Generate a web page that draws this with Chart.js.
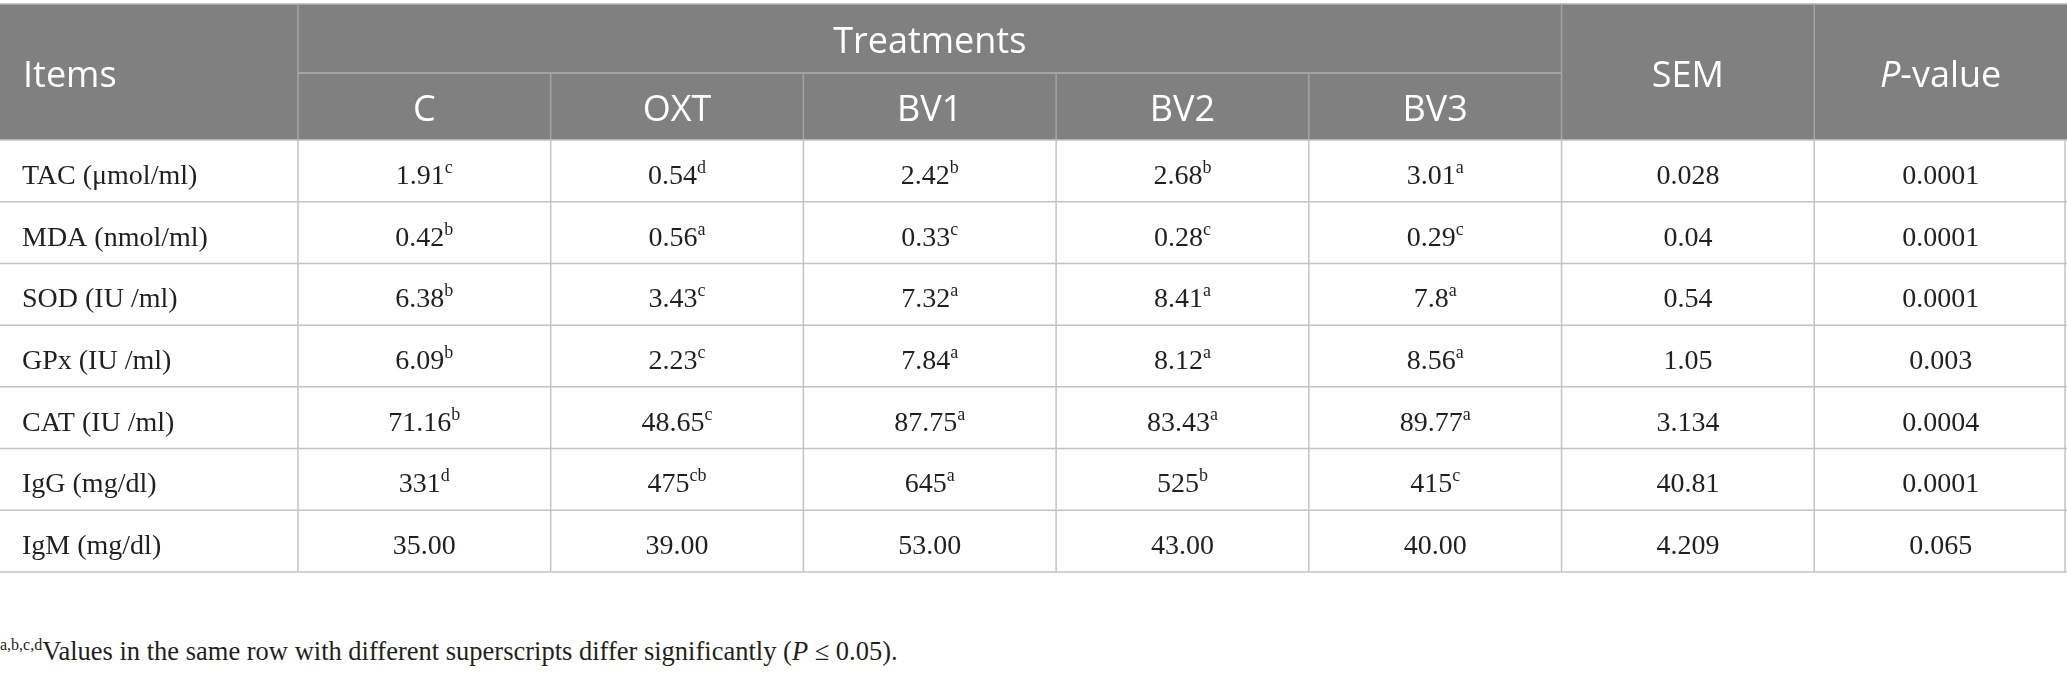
<!DOCTYPE html>
<html>
<head>
<meta charset="utf-8">
<script src="https://cdn.jsdelivr.net/npm/chart.js@4.4.0/dist/chart.umd.min.js"></script>
<style>
  html, body { margin: 0; padding: 0; background: #fff; }
  #wrap { position: relative; width: 2067px; height: 676px; overflow: hidden; }
  #note { position: absolute; left: 0; top: 638px; font: 26.5px "Liberation Serif", serif; line-height: 26px; color: #231f20; white-space: nowrap; }
  #note sup { font-size: 16px; line-height: 0; vertical-align: 10px; }
</style>
</head>
<body>
<div id="wrap">
  <canvas id="chart" width="2067" height="580"></canvas>
  <div id="note"><sup>a,b,c,d</sup>Values in the same row with different superscripts differ significantly (<i>P</i> ≤ 0.05).</div>
</div>
<script>
// table content
const items = ["TAC (μmol/ml)", "MDA (nmol/ml)", "SOD (IU /ml)", "GPx (IU /ml)", "CAT (IU /ml)", "IgG (mg/dl)", "IgM (mg/dl)"];
const treatments = ["C", "OXT", "BV1", "BV2", "BV3"];

const valC   = ["1.91", "0.42", "6.38", "6.09", "71.16", "331", "35.00"];
const supC   = ["c", "b", "b", "b", "b", "d", ""];
const valOXT = ["0.54", "0.56", "3.43", "2.23", "48.65", "475", "39.00"];
const supOXT = ["d", "a", "c", "c", "c", "cb", ""];
const valBV1 = ["2.42", "0.33", "7.32", "7.84", "87.75", "645", "53.00"];
const supBV1 = ["b", "c", "a", "a", "a", "a", ""];
const valBV2 = ["2.68", "0.28", "8.41", "8.12", "83.43", "525", "43.00"];
const supBV2 = ["b", "c", "a", "a", "a", "b", ""];
const valBV3 = ["3.01", "0.29", "7.8", "8.56", "89.77", "415", "40.00"];
const supBV3 = ["a", "c", "a", "a", "a", "c", ""];
const sem    = ["0.028", "0.04", "0.54", "1.05", "3.134", "40.81", "4.209"];
const pValue = ["0.0001", "0.0001", "0.0001", "0.003", "0.0004", "0.0001", "0.065"];

// layout in scale units (one data row = 1, one value column = 1)
const ITEM_SPAN = 1.179;
const X_MAX = ITEM_SPAN + 7;
const HEAD1 = 1.118;
const HEAD2 = 1.086;
const HEAD = HEAD1 + HEAD2;
const Y_MAX = HEAD + items.length;

const HEAD_BG = "#7f807f";
const HEAD_LINE = "#a4a4a4";
const BODY_LINE = "#c3c3c3";
const TEXT = "#231f20";
const HEAD_FONT = '36px "Open Sans"';
const BODY_FONT = '28px "Liberation Serif"';
const SUP_FONT = '18px "Liberation Serif"';

function colEdge(k) {
  return k === 0 ? 0 : ITEM_SPAN + (k - 1);
}

function column(k, texts, sups) {
  return {
    texts: texts,
    sups: sups || texts.map(() => ""),
    data: texts.map((t, i) => ({ x: (colEdge(k) + colEdge(k + 1)) / 2, y: HEAD + i + 0.5 })),
    pointRadius: 0
  };
}

const columns = [
  column(1, valC, supC),
  column(2, valOXT, supOXT),
  column(3, valBV1, supBV1),
  column(4, valBV2, supBV2),
  column(5, valBV3, supBV3),
  column(6, sem),
  column(7, pValue)
];

function line(ctx, x1, y1, x2, y2, color, w) {
  ctx.strokeStyle = color;
  ctx.lineWidth = w;
  ctx.beginPath();
  ctx.moveTo(x1, y1);
  ctx.lineTo(x2, y2);
  ctx.stroke();
}

const tablePlugin = {
  id: 'tablePlugin',
  afterDraw(chart) {
    const ctx = chart.ctx;
    const x = chart.scales.x, y = chart.scales.y;
    const px = v => x.getPixelForValue(v);
    const py = v => y.getPixelForValue(v);
    const left = px(0), right = px(X_MAX);
    const yTop = py(0), yMid = py(HEAD1), yHead = py(HEAD), yBot = py(Y_MAX);

    ctx.save();
    // header block
    ctx.fillStyle = HEAD_BG;
    ctx.fillRect(left, yTop, right - left, yHead - yTop);
    line(ctx, left, yTop, right, yTop, "#b4b4b4", 1.5);
    line(ctx, px(colEdge(1)), yMid, px(colEdge(6)), yMid, HEAD_LINE, 2);
    [1, 6, 7].forEach(k => line(ctx, px(colEdge(k)), yTop, px(colEdge(k)), yHead, HEAD_LINE, 1.5));
    [2, 3, 4, 5].forEach(k => line(ctx, px(colEdge(k)), yMid, px(colEdge(k)), yHead, HEAD_LINE, 1.5));

    // body grid
    for (let i = 0; i <= items.length; i++) {
      line(ctx, left, py(HEAD + i), right, py(HEAD + i), BODY_LINE, 1.5);
    }
    for (let k = 1; k <= 7; k++) {
      line(ctx, px(colEdge(k)), yHead, px(colEdge(k)), yBot, BODY_LINE, 1.5);
    }
    line(ctx, right - 2, yHead, right - 2, yBot, BODY_LINE, 1.5);

    // header text
    ctx.fillStyle = "#ffffff";
    ctx.font = HEAD_FONT;
    ctx.textBaseline = "alphabetic";
    ctx.textAlign = "left";
    const span = (a, b) => (a + b) / 2;
    ctx.fillText("Items", left + 23, span(yTop, yHead) + 14.6);
    ctx.textAlign = "center";
    ctx.fillText("Treatments", span(px(colEdge(1)), px(colEdge(6))), span(yTop, yMid) + 14.6);
    treatments.forEach((t, j) => {
      ctx.fillText(t, span(px(colEdge(j + 1)), px(colEdge(j + 2))), span(yMid, yHead) + 14.6);
    });
    ctx.fillText("SEM", span(px(colEdge(6)), px(colEdge(7))), span(yTop, yHead) + 14.6);
    // P-value with italic P
    ctx.textAlign = "left";
    const pItalic = 'italic ' + HEAD_FONT;
    ctx.font = pItalic;
    const wP = ctx.measureText("P").width;
    ctx.font = HEAD_FONT;
    const wRest = ctx.measureText("-value").width;
    const pc = span(px(colEdge(7)), px(colEdge(8)));
    const px0 = pc - (wP + wRest) / 2;
    ctx.font = pItalic;
    ctx.fillText("P", px0, span(yTop, yHead) + 14.6);
    ctx.font = HEAD_FONT;
    ctx.fillText("-value", px0 + wP, span(yTop, yHead) + 14.6);

    // body text
    ctx.fillStyle = TEXT;
    ctx.font = BODY_FONT;
    items.forEach((t, i) => {
      ctx.fillText(t, left + 22, py(HEAD + i + 0.5) + 13);
    });
    chart.data.datasets.forEach((ds, di) => {
      const meta = chart.getDatasetMeta(di);
      meta.data.forEach((pt, i) => {
        const main = ds.texts[i], sup = ds.sups[i];
        ctx.font = BODY_FONT;
        const w1 = ctx.measureText(main).width;
        ctx.font = SUP_FONT;
        const w2 = sup ? ctx.measureText(sup).width : 0;
        const x0 = pt.x - (w1 + w2) / 2;
        ctx.font = BODY_FONT;
        ctx.fillText(main, x0, pt.y + 13);
        if (sup) {
          ctx.font = SUP_FONT;
          ctx.fillText(sup, x0 + w1, pt.y + 13 - 11);
        }
      });
    });
    ctx.restore();
  }
};

function draw() {
  new Chart(document.getElementById('chart'), {
    type: 'scatter',
    data: { datasets: columns },
    options: {
      responsive: false,
      animation: false,
      devicePixelRatio: 1,
      layout: { padding: { top: 4, bottom: 8, left: 0, right: 0 } },
      scales: {
        x: { type: 'linear', display: false, min: 0, max: X_MAX },
        y: { type: 'linear', display: false, reverse: true, min: 0, max: Y_MAX }
      },
      plugins: { legend: { display: false }, tooltip: { enabled: false } }
    },
    plugins: [tablePlugin]
  });
}

Promise.all([
  document.fonts.load(HEAD_FONT),
  document.fonts.load('italic ' + HEAD_FONT),
  document.fonts.load(BODY_FONT)
]).then(draw, draw);
</script>
</body>
</html>
